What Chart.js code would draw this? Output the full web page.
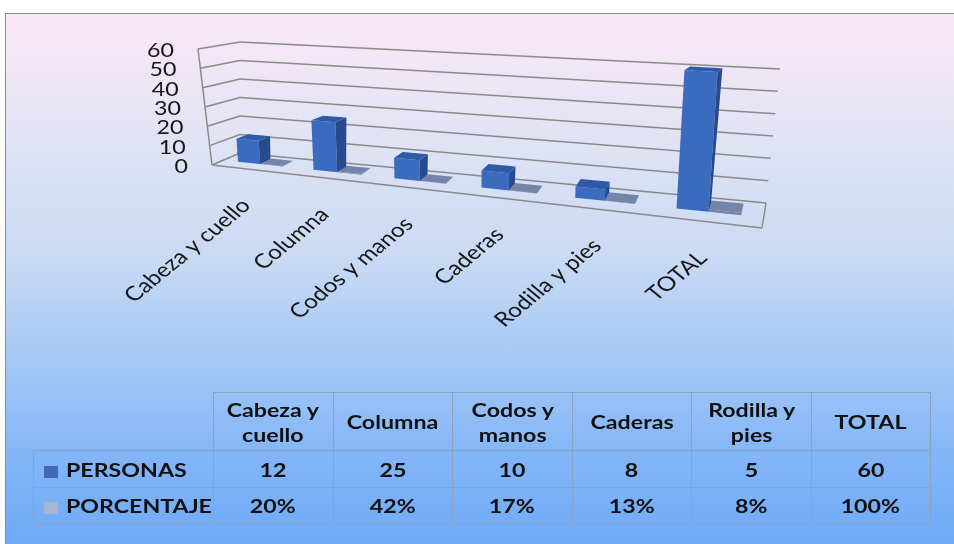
<!DOCTYPE html>
<html>
<head>
<meta charset="utf-8">
<script src="https://cdn.jsdelivr.net/npm/chart.js@4"></script>
<style>
  html, body { margin: 0; padding: 0; background: #fff; width: 954px; height: 544px; overflow: hidden; }
  #frame {
    position: absolute; left: 5px; top: 13px; width: 960px; height: 540px;
    border: 1px solid #8c8c8c;
    background: linear-gradient(to bottom, #fbe8f4 0%, #e4e4f5 20%, #c9daf3 45%, #a3c7f6 65%, #82b5f7 82%, #6da9f6 100%);
  }
  #chart { position: absolute; left: 0; top: 0; }
  #tbl {
    position: absolute; left: 33px; top: 392px; width: 898px;
    border-collapse: collapse; table-layout: fixed;
    font: bold 19px Lato, sans-serif; color: #111;
  }
  #tbl td { border: 1px solid #8ea2bf; text-align: center; padding: 0; }
  #tbl td.corner { border-top: none; border-left: none; }
  #tbl td.name { text-align: left; }
  #tbl span { display: inline-block; transform: scaleX(1.22); line-height: 25px; }
  #tbl td.name span { transform-origin: left center; }
  .key { display: inline-block; width: 14px; height: 12px; margin: 0 8px 0 10px; vertical-align: -1px; }
</style>
</head>
<body>
<div id="frame"></div>
<canvas id="chart" width="954" height="544"></canvas>
<table id="tbl"></table>
<script>
const CATEGORIES = ['Cabeza y cuello', 'Columna', 'Codos y manos', 'Caderas', 'Rodilla y pies', 'TOTAL'];
const PERSONAS = [12, 25, 10, 8, 5, 60];
const PORCENTAJE = [0.20, 0.42, 0.17, 0.13, 0.08, 1.00];
const Y_TICKS = [0, 10, 20, 30, 40, 50, 60];
const SERIES_NAMES = ['PERSONAS', 'PORCENTAJE'];

const BLUE = { front: '#3a6bbf', side: '#264a8d', top: '#2f5aa7', key: '#4169b8' };
const GREY = { front: '#7080a6', side: '#667599', top: '#7585aa', key: '#a9b5cf' };

// corners of the 3d box, back wall and front edge (left/right, bottom/top)
const BOX = {
  back: { lb: [240, 153], lt: [240, 42], rb: [766, 203], rt: [780, 69] },
  front: { lb: [212, 165], lt: [198, 49], rb: [762, 228], rt: [771, 79] },
};
const PERSP = -0.2;
const STRETCH = 1.22;
const W_BACK = 0.2;
const W_FRONT = 0.59;

function project(u, v, w) {
  const g = (u * (1 + PERSP)) / (1 + PERSP * u);
  const plane = (f) => {
    const bx = f.lb[0] + (f.rb[0] - f.lb[0]) * g;
    const by = f.lb[1] + (f.rb[1] - f.lb[1]) * g;
    const tx = f.lt[0] + (f.rt[0] - f.lt[0]) * g;
    const ty = f.lt[1] + (f.rt[1] - f.lt[1]) * g;
    return [bx + (tx - bx) * v, by + (ty - by) * v];
  };
  const b = plane(BOX.back);
  const f = plane(BOX.front);
  return [b[0] + (f[0] - b[0]) * w, b[1] + (f[1] - b[1]) * w];
}

function line(ctx, a, b) {
  const p = project(...a);
  const q = project(...b);
  ctx.beginPath();
  ctx.moveTo(p[0], p[1]);
  ctx.lineTo(q[0], q[1]);
  ctx.stroke();
}

function poly(ctx, pts, color) {
  ctx.beginPath();
  pts.forEach((pt, i) => {
    const p = project(...pt);
    if (i === 0) ctx.moveTo(p[0], p[1]);
    else ctx.lineTo(p[0], p[1]);
  });
  ctx.closePath();
  ctx.fillStyle = color;
  ctx.fill();
}

function drawBox(ctx, u0, u1, v0, v1, col) {
  poly(ctx, [[u0, v0, W_FRONT], [u1, v0, W_FRONT], [u1, v1, W_FRONT], [u0, v1, W_FRONT]], col.front);
  poly(ctx, [[u1, v0, W_FRONT], [u1, v0, W_BACK], [u1, v1, W_BACK], [u1, v1, W_FRONT]], col.side);
  poly(ctx, [[u0, v1, W_FRONT], [u1, v1, W_FRONT], [u1, v1, W_BACK], [u0, v1, W_BACK]], col.top);
}

function stretchedText(ctx, text, x, y, angle, align) {
  ctx.save();
  ctx.translate(x, y);
  ctx.scale(STRETCH, 1);
  ctx.rotate(angle);
  ctx.textAlign = align;
  ctx.textBaseline = 'middle';
  ctx.fillText(text, 0, 0);
  ctx.restore();
}

const box3d = {
  id: 'box3d',
  beforeDatasetsDraw(chart) {
    const ctx = chart.ctx;
    const area = chart.chartArea;
    const xs = chart.scales.x;
    const ys = chart.scales.y;
    const toU = (px) => (px - area.left) / (area.right - area.left);
    const toV = (py) => (area.bottom - py) / (area.bottom - area.top);

    ctx.save();
    // walls
    ctx.strokeStyle = '#8a8a8a';
    ctx.lineWidth = 1.5;
    Y_TICKS.forEach((t) => {
      const v = toV(ys.getPixelForValue(t));
      line(ctx, [0, v, 0], [1, v, 0]);
      line(ctx, [0, v, 0], [0, v, 1]);
    });
    line(ctx, [0, 0, 1], [0, 1, 1]);
    line(ctx, [0, 0, 1], [1, 0, 1]);
    line(ctx, [1, 0, 1], [1, 0, 0]);

    // y tick labels
    ctx.fillStyle = '#151515';
    ctx.font = '19px Lato';
    Y_TICKS.forEach((t) => {
      const p = project(0, toV(ys.getPixelForValue(t)), 1);
      stretchedText(ctx, String(t), p[0] - 24, p[1] + 2, 0, 'right');
    });

    // category labels
    ctx.font = '20px Lato';
    CATEGORIES.forEach((c, i) => {
      const p = project(toU(xs.getPixelForValue(i)), 0, 1);
      stretchedText(ctx, c, p[0] - 3, p[1] + 33, -Math.PI / 4, 'right');
    });

    // bars, grey series first
    const blue = chart.getDatasetMeta(0).data;
    const grey = chart.getDatasetMeta(1).data;
    CATEGORIES.forEach((c, i) => {
      [[grey[i], GREY], [blue[i], BLUE]].forEach(([bar, col]) => {
        const { x, y, base, width } = bar.getProps(['x', 'y', 'base', 'width'], true);
        drawBox(ctx, toU(x - width / 2), toU(x + width / 2), toV(base), toV(y), col);
      });
    });
    ctx.restore();
    return false;
  },
};

new Chart(document.getElementById('chart'), {
  type: 'bar',
  data: {
    labels: CATEGORIES,
    datasets: [
      { label: SERIES_NAMES[0], data: PERSONAS, backgroundColor: BLUE.front },
      { label: SERIES_NAMES[1], data: PORCENTAJE, backgroundColor: GREY.front },
    ],
  },
  options: {
    responsive: false,
    animation: false,
    devicePixelRatio: 1,
    categoryPercentage: 0.6,
    barPercentage: 1.0,
    layout: { padding: { left: 200, right: 180, top: 40, bottom: 380 } },
    plugins: { legend: { display: false }, tooltip: { enabled: false } },
    scales: {
      x: { display: false },
      y: { display: false, min: 0, max: 60 },
    },
  },
  plugins: [box3d],
});

// data table under the chart
const tbl = document.getElementById('tbl');
let html = '<colgroup><col style="width:180px">' + CATEGORIES.map(() => '<col>').join('') + '</colgroup>';
html += '<tr style="height:58px"><td class="corner"></td>' +
  CATEGORIES.map((c) => '<td><span>' + c.replace(' y ', ' y<br>') + '</span></td>').join('') + '</tr>';
const rows = [
  [SERIES_NAMES[0], BLUE.key, PERSONAS.map(String), 37],
  [SERIES_NAMES[1], GREY.key, PORCENTAJE.map((p) => Math.round(p * 100) + '%'), 36],
];
rows.forEach(([name, key, vals, h]) => {
  html += '<tr style="height:' + h + 'px"><td class="name"><i class="key" style="background:' + key + '"></i><span>' + name + '</span></td>' +
    vals.map((v) => '<td><span>' + v + '</span></td>').join('') + '</tr>';
});
tbl.innerHTML = html;
</script>
</body>
</html>
